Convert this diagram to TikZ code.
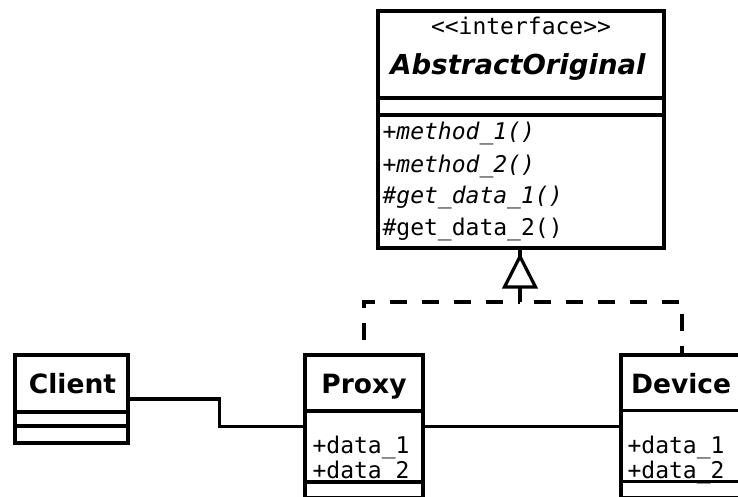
\documentclass[tikz,border=0pt]{standalone}
\usepackage{fontspec}
\newfontfamily\umlsans{DejaVu Sans}
\newfontfamily\umlmono{DejaVu Sans Mono}

\begin{document}
\begin{tikzpicture}[x=1pt,y=-1pt,
  line width=3.2pt,
  classbox/.style={draw, line width=3.5pt, inner sep=0pt, rectangle, fill=white},
  sep/.style={line width=3.5pt},
  mono/.style={font=\umlmono\fontsize{23}{28}\selectfont, inner sep=0pt},
  monoit/.style={font=\umlmono\itshape\fontsize{23}{28}\selectfont, inner sep=0pt},
  title/.style={font=\umlsans\bfseries\fontsize{26.5}{32}\selectfont, inner sep=0pt},
  titleit/.style={font=\umlsans\bfseries\itshape\fontsize{27.5}{32}\selectfont, inner sep=0pt},
  realize/.style={dash pattern=on 17pt off 15pt, line width=3.2pt},
  hollowtip/.style={draw, fill=white, line width=3.2pt, line join=miter},
]
\useasboundingbox (0,0) rectangle (738,497);
\fill[white] (0,0) rectangle (738,497);
\clip (0,0) rectangle (738,497);

% class boxes
\node[classbox, minimum width=286pt, minimum height=237pt] (iface) at (521,129.5) {};
\node[classbox, minimum width=113pt, minimum height=88pt] (client) at (71.5,399) {};
\node[classbox, minimum width=118pt, minimum height=143pt] (proxy) at (364,426.5) {};
\node[classbox, minimum width=122pt, minimum height=143pt] (device) at (682,426.5) {};

% compartment separators
\draw[sep] (iface.west |- 0,98) -- (iface.east |- 0,98);
\draw[sep] (iface.west |- 0,115) -- (iface.east |- 0,115);
\draw[sep] (client.west |- 0,412) -- (client.east |- 0,412);
\draw[sep] (client.west |- 0,426) -- (client.east |- 0,426);
\draw[sep] (proxy.west |- 0,411) -- (proxy.east |- 0,411);
\draw[sep] (proxy.west |- 0,482) -- (proxy.east |- 0,482);
\draw[sep] (device.west |- 0,410.5) -- (device.east |- 0,410.5);
\draw[sep] (device.west |- 0,481.5) -- (device.east |- 0,481.5);

% interface header and operations
\node[mono, anchor=base] (stereo) at (521,35) {<{}<interface>{}>};
\node[titleit, anchor=base] (ifname) at (518,75) {AbstractOriginal};
\node[monoit, anchor=base west] (op1) at (381,140) {+method\_1()};
\node[monoit, anchor=base west] (op2) at (381,172) {+method\_2()};
\node[monoit, anchor=base west] (op3) at (381,203) {\#get\_data\_1()};
\node[mono, anchor=base west] (op4) at (381,235) {\#get\_data\_2()};

% concrete classes
\node[title, anchor=base] (clientname) at (72.5,393) {Client};
\node[title, anchor=base] (proxyname) at (364,393) {Proxy};
\node[title, anchor=base west] (devicename) at (629.5,393) {Device};
\node[mono, anchor=base west] (pa1) at (311,453) {+data\_1};
\node[mono, anchor=base west] (pa2) at (311,478.5) {+data\_2};
\node[mono, anchor=base west] (da1) at (626,453) {+data\_1};
\node[mono, anchor=base west] (da2) at (626,478.5) {+data\_2};

% associations
\draw (client.east) -- ++(90,0) |- (proxy.west);
\draw (proxy.east) -- (device.west);

% realization of the interface: dashed legs, solid stem, hollow triangle
\coordinate (hub) at (520,302);
\draw[realize, dash phase=19pt] (proxy.north) |- (hub);
\draw[realize, dash phase=10pt] (device.north) |- (hub);
\draw (hub) -- (hub |- iface.south);
\path[hollowtip] (hub |- 0,256.5) -- ++(-15.5,30.5) -- ++(31,0) -- cycle;
\end{tikzpicture}
\end{document}
